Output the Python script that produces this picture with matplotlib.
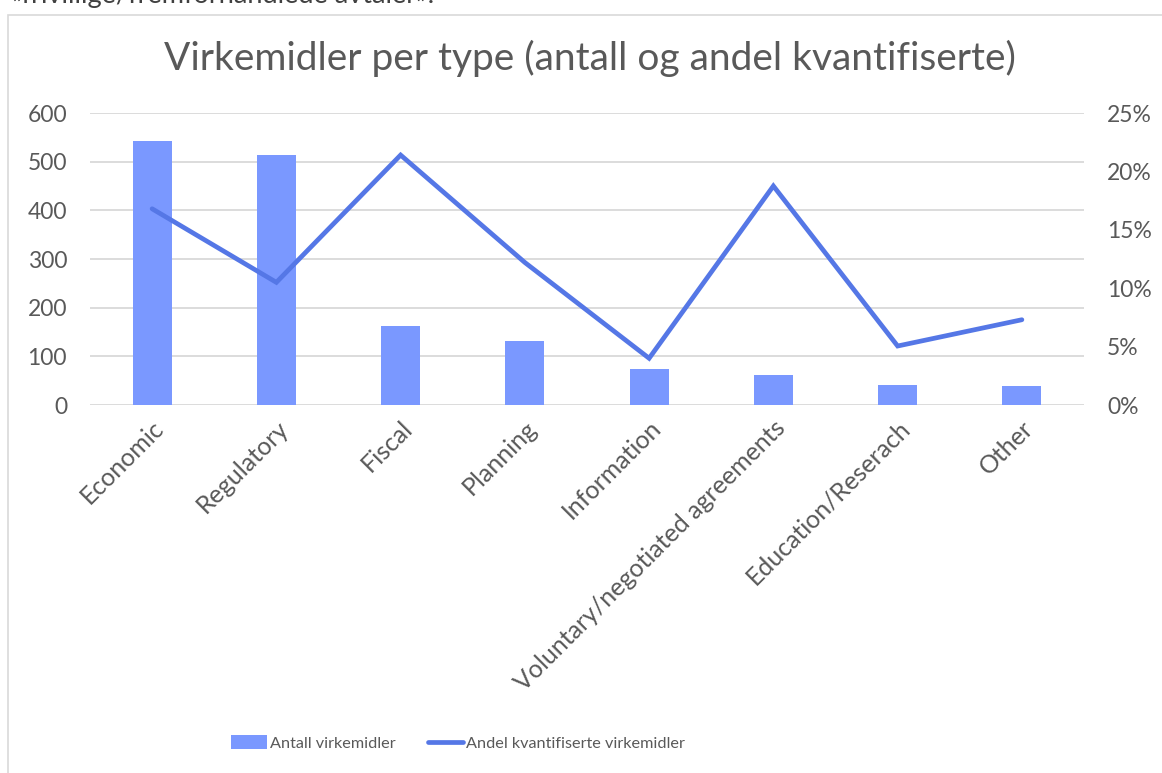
import matplotlib
matplotlib.use("Agg")
import matplotlib.pyplot as plt
from matplotlib.patches import Rectangle
from matplotlib.ticker import FuncFormatter, MultipleLocator

categories = ["Economic", "Regulatory", "Fiscal", "Planning", "Information",
              "Voluntary/negotiated agreements", "Education/Reserach", "Other"]
antall = [543, 514, 163, 131, 74, 62, 41, 39]
andel = [16.8, 10.5, 21.4, 12.2, 4.0, 18.75, 5.05, 7.3]

title = "Virkemidler per type (antall og andel kvantifiserte)"
bar_label = "Antall virkemidler"
line_label = "Andel kvantifiserte virkemidler"
top_text = "«frivillige/fremforhandlede avtaler»."

FONT = ["Lato", "DejaVu Sans"]
plt.rcParams["font.family"] = FONT
GREY = "#595959"
BAR_C = "#7A98FF"
LINE_C = "#5577E6"

W, H = 1162, 773
fig = plt.figure(figsize=(W / 100, H / 100), dpi=100)
fig.patch.set_facecolor("white")

# outer chart border
fig.add_artist(Rectangle((8 / W, -0.05), 1.2, (H - 15) / H + 0.05,
                         transform=fig.transFigure, fill=False,
                         edgecolor="#D9D9D9", linewidth=1.2))
fig.text(10 / W, 1 - 3.5 / H, top_text, fontsize=19.5, color="#404040",
         ha="left", va="baseline")

ax = fig.add_axes([90 / W, (H - 405) / H, (1084 - 90) / W, (405 - 113) / H])
x = list(range(len(categories)))
ax.bar(x, antall, width=0.315, color=BAR_C, label=bar_label, zorder=2)
ax.set_xlim(-0.5, len(categories) - 0.5)
ax.set_ylim(0, 600)
ax.yaxis.set_major_locator(MultipleLocator(100))
ax.grid(axis="y", color="#D9D9D9", linewidth=1.3, zorder=0)
ax.set_axisbelow(True)
for s in ax.spines.values():
    s.set_visible(False)
ax.tick_params(axis="both", length=0, colors=GREY, labelsize=16.5)
ax.tick_params(axis="y", pad=16.5)
ax.set_xticks(x)
ax.set_xticklabels(categories, rotation=45, ha="right", va="top",
                   rotation_mode="anchor", fontsize=18, color=GREY)
ax.tick_params(axis="x", pad=8)

ax2 = ax.twinx()
ax2.plot(x, andel, color=LINE_C, linewidth=3.4, label=line_label,
         solid_joinstyle="miter", solid_capstyle="round", zorder=3)
ax2.set_ylim(0, 25)
ax2.yaxis.set_major_locator(MultipleLocator(5))
ax2.yaxis.set_major_formatter(FuncFormatter(lambda v, p: f"{v:.0f}%"))
for s in ax2.spines.values():
    s.set_visible(False)
ax2.tick_params(axis="y", length=0, colors=GREY, labelsize=16.5, pad=16.5)

fig.suptitle(title, x=590 / W, y=1 - 58 / H, va="center", fontsize=28,
             color=GREY)

h1, l1 = ax.get_legend_handles_labels()
h2, l2 = ax2.get_legend_handles_labels()
fig.legend(h1 + h2, l1 + l2, loc="center", bbox_to_anchor=(458 / W, 1 - 743 / H),
           ncol=2, frameon=False, fontsize=11.7, labelcolor=GREY,
           handlelength=2.2, handletextpad=0.15, columnspacing=2.0,
           handleheight=0.9)

fig.savefig("out.png", dpi=100)
